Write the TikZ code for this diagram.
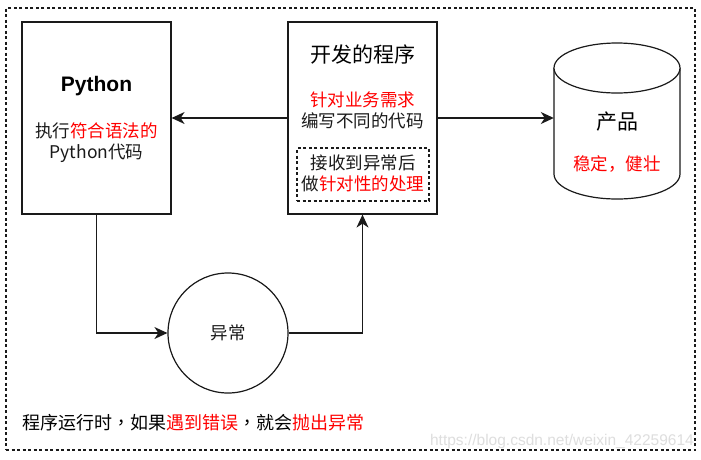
\documentclass[tikz,border=0pt]{standalone}
\usepackage{fontspec}
\setmainfont{Liberation Sans}
\newfontfamily\cjk{Noto Sans CJK SC}
\newfontfamily\cjktc[Language=Chinese Traditional]{Noto Sans CJK TC}
\usetikzlibrary{arrows.meta}
\definecolor{myred}{HTML}{FF0000}
\definecolor{ink}{HTML}{1A1A1A}
\definecolor{wm}{HTML}{DEDEDE}
\begin{document}
\begin{tikzpicture}[x=1pt,y=-1pt,
  boxst/.style={draw=ink,line width=1.2pt,fill=white,inner sep=0pt},
  dashbox/.style={draw=ink,line width=1.1pt,dash pattern=on 3pt off 2.5pt,inner sep=0pt},
  txt/.style={inner sep=0pt,align=center,text=ink,font=\fontsize{17.5}{21}\selectfont\cjk},
  title/.style={inner sep=0pt,align=center,text=black,font=\fontsize{21}{25}\selectfont\cjk},
  conn/.style={draw=ink,line width=1.3pt},
  arr/.style={conn,-{Stealth[length=13pt,width=12pt,inset=4pt]}}]
\useasboundingbox (0,0) rectangle (701,459);
\fill[white] (0,0) rectangle (701,459);
% outer dashed frame
\node[dashbox,minimum width=689,minimum height=442] (frame) at (350.5,229) {};
% Python box
\node[boxst,minimum width=149,minimum height=192] (py) at (96.5,118) {};
\node[inner sep=0pt,font=\fontsize{21}{25}\selectfont\bfseries] (pyt) at (96.5,86) {Python};
\node[txt] (pyd) at (96.5,143) {执行\textcolor{myred}{符合语法的}\\Python代码};
% Program box
\node[boxst,minimum width=149,minimum height=192] (prog) at (362.5,118) {};
\node[title] (progt) at (362.5,55) {开发的程序};
\node[txt] (progd) at (362.5,110) {\textcolor{myred}{针对业务需求}\\编写不同的代码};
\node[dashbox,minimum width=132,minimum height=53] (inner) at (363,174.5) {};
\node[txt] (innert) at (363,173) {接收到异常后\\做\textcolor{myred}{针对性的处理}};
% Cylinder
\node[inner sep=0pt,minimum width=126,minimum height=156] (prod) at (617,121) {};
\draw[draw=ink,line width=1.2pt,fill=white] (554,68) -- (554,174) arc[start angle=180,end angle=0,x radius=63,y radius=25] -- (680,68);
\draw[draw=ink,line width=1.2pt,fill=white] (617,68) ellipse[x radius=63,y radius=25];
\node[title] (prodt) at (617,122) {产品};
\node[txt,text=myred] (prodd) at (617,164) {稳定，健壮};
% exception circle
\node[draw=ink,line width=1.2pt,circle,minimum size=120,inner sep=0pt] (exc) at (228,333) {};
\node[txt] (exct) at (228,333) {异常};
% connectors
\draw[arr] (prog.west) -- (py.east);
\draw[arr] (prog.east) -- (prog.east -| prod.west);
\draw[arr] (py.south) |- (exc.west);
\draw[arr] (exc.east) -| (prog.south);
% bottom text
\node[txt,text=black,anchor=west,font=\fontsize{18}{21}\selectfont\cjk] (note) at (22,423) {程序运行时{\cjktc ，}如果\textcolor{myred}{遇到错误}{\cjktc ，}就会\textcolor{myred}{抛出异常}};
\node[inner sep=0pt,anchor=east,text=wm,font=\fontsize{15.5}{18}\selectfont] (wmk) at (694,441) {https://blog.csdn.net/weixin\_42259614};
\end{tikzpicture}
\end{document}
